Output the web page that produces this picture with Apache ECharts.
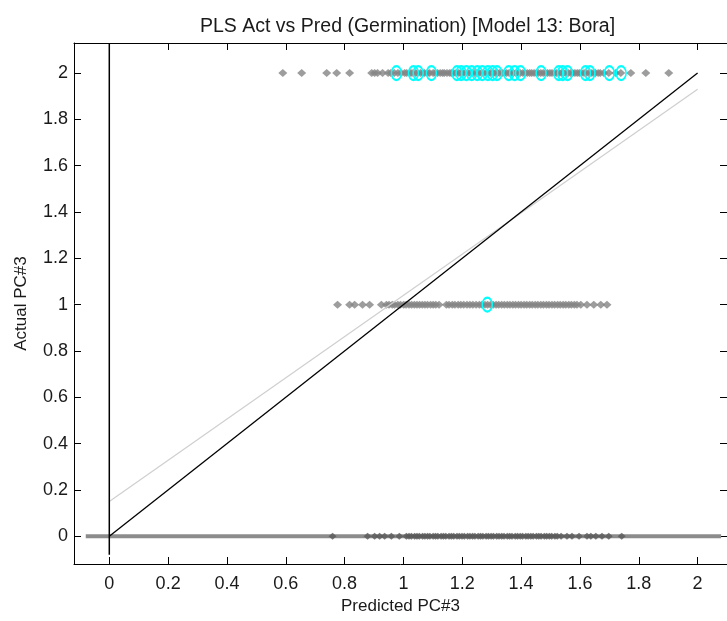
<!DOCTYPE html>
<html>
<head>
<meta charset="utf-8">
<script src="https://cdn.jsdelivr.net/npm/echarts@6/dist/echarts.min.js"></script>
<style>
  html, body { margin: 0; padding: 0; background: #fff; }
  #chart { width: 727px; height: 621px; }
</style>
</head>
<body>
<div id="chart"></div>
<script>
// Predicted values for samples whose actual class is 2, 1 and 0
const predActual2 = [0.590, 0.654, 0.739, 0.773, 0.817, 0.892, 0.902, 0.912, 0.929, 0.948, 0.957, 0.969, 0.981, 0.992, 1.004, 1.011, 1.023, 1.029, 1.041, 1.047, 1.058, 1.066, 1.072, 1.083, 1.089, 1.101, 1.108, 1.116, 1.125, 1.133, 1.139, 1.148, 1.157, 1.163, 1.171, 1.179, 1.188, 1.194, 1.203, 1.210, 1.219, 1.227, 1.233, 1.242, 1.250, 1.257, 1.266, 1.272, 1.281, 1.289, 1.296, 1.305, 1.312, 1.320, 1.327, 1.336, 1.343, 1.351, 1.359, 1.366, 1.374, 1.383, 1.390, 1.397, 1.406, 1.413, 1.421, 1.429, 1.436, 1.444, 1.452, 1.459, 1.467, 1.475, 1.483, 1.490, 1.498, 1.505, 1.514, 1.521, 1.529, 1.537, 1.544, 1.552, 1.560, 1.568, 1.575, 1.583, 1.591, 1.598, 1.606, 1.614, 1.621, 1.630, 1.638, 1.645, 1.653, 1.662, 1.669, 1.681, 1.698, 1.722, 1.739, 1.773, 1.824, 1.902];
const predActual1 = [0.776, 0.817, 0.834, 0.861, 0.885, 0.925, 0.942, 0.951, 0.962, 0.970, 0.981, 0.990, 1.001, 1.009, 1.019, 1.028, 1.037, 1.046, 1.055, 1.064, 1.073, 1.082, 1.092, 1.101, 1.110, 1.121, 1.146, 1.155, 1.166, 1.175, 1.186, 1.195, 1.205, 1.216, 1.226, 1.236, 1.247, 1.258, 1.267, 1.277, 1.286, 1.296, 1.305, 1.315, 1.324, 1.334, 1.343, 1.353, 1.362, 1.372, 1.381, 1.391, 1.400, 1.410, 1.419, 1.429, 1.438, 1.448, 1.457, 1.467, 1.476, 1.486, 1.495, 1.505, 1.514, 1.524, 1.533, 1.543, 1.552, 1.562, 1.571, 1.581, 1.590, 1.603, 1.624, 1.647, 1.671, 1.692];
const predActual0 = [0.759, 0.878, 0.902, 0.919, 0.936, 0.959, 0.986, 1.010, 1.019, 1.027, 1.038, 1.046, 1.054, 1.065, 1.073, 1.082, 1.090, 1.101, 1.109, 1.117, 1.128, 1.136, 1.144, 1.155, 1.163, 1.171, 1.182, 1.190, 1.199, 1.207, 1.218, 1.226, 1.235, 1.243, 1.254, 1.262, 1.270, 1.281, 1.289, 1.298, 1.306, 1.317, 1.325, 1.334, 1.342, 1.353, 1.361, 1.369, 1.380, 1.388, 1.397, 1.405, 1.416, 1.424, 1.433, 1.441, 1.452, 1.460, 1.468, 1.479, 1.487, 1.496, 1.504, 1.515, 1.523, 1.536, 1.556, 1.573, 1.597, 1.624, 1.637, 1.654, 1.675, 1.698, 1.742];

// Highlighted samples (actual class 2 and 1)
const markedActual2 = [0.976, 1.034, 1.050, 1.095, 1.182, 1.196, 1.214, 1.232, 1.251, 1.268, 1.287, 1.303, 1.318, 1.358, 1.378, 1.398, 1.468, 1.528, 1.541, 1.558, 1.619, 1.634, 1.700, 1.740];
const markedActual1 = [1.285];

// Reference lines
const idealLine = [[0, 0], [2, 2]];
const fitLine = [[0, 0.15], [2, 1.93]];
const zeroVLine = [[0, -0.08], [0, 2.13]];
const zeroHLine = [[-0.08, 0], [2.08, 0]];

const tickValues = [0, 0.2, 0.4, 0.6, 0.8, 1, 1.2, 1.4, 1.6, 1.8, 2];

const FONT = 'Liberation Sans, Arial, Helvetica, sans-serif';
const toPts = (xs, y) => xs.map(x => [x, y]);

const axisCommon = {
  type: 'value',
  splitLine: { show: false },
  axisLine: { show: true, onZero: false, lineStyle: { color: '#000', width: 1 } },
  axisTick: { show: true, inside: true, length: 7, customValues: tickValues, lineStyle: { color: '#000' } },
};

const chart = echarts.init(document.getElementById('chart'), null, { renderer: 'canvas' });
chart.setOption({
  animation: false,
  backgroundColor: '#fff',
  title: {
    text: 'PLS Act vs Pred (Germination) [Model 13: Bora]',
    left: 195, top: 12,
    textStyle: { fontFamily: FONT, fontSize: 19.5, fontWeight: 'normal', color: '#1a1a1a' }
  },
  grid: { left: 74, top: 43, width: 655, height: 521 },
  xAxis: [
    Object.assign({}, axisCommon, {
      position: 'bottom', min: -0.12, max: 2.1,
      name: 'Predicted PC#3', nameLocation: 'middle', nameGap: 34,
      nameTextStyle: { fontFamily: FONT, fontSize: 17, color: '#1a1a1a', verticalAlign: 'top' },
      axisLabel: { customValues: tickValues, margin: 11, fontFamily: FONT, fontSize: 18, color: '#1a1a1a' }
    }),
    Object.assign({}, axisCommon, {
      position: 'top', min: -0.12, max: 2.1,
      axisLabel: { show: false }
    })
  ],
  yAxis: [
    Object.assign({}, axisCommon, {
      position: 'left', min: -0.12, max: 2.13,
      name: 'Actual PC#3', nameLocation: 'middle', nameGap: 44, nameRotate: 90,
      nameTextStyle: { fontFamily: FONT, fontSize: 17, color: '#1a1a1a' },
      axisLabel: { customValues: tickValues, margin: 6, fontFamily: FONT, fontSize: 18, color: '#1a1a1a' }
    }),
    Object.assign({}, axisCommon, {
      position: 'right', min: -0.12, max: 2.13,
      axisLabel: { show: false }
    })
  ],
  series: [
    { type: 'line', data: zeroHLine, symbol: 'none', silent: true, z: 1,
      lineStyle: { color: '#8c8c8c', width: 4 } },
    { type: 'scatter', data: toPts(predActual2, 2), symbol: 'diamond', symbolSize: [9, 8], z: 2,
      itemStyle: { color: '#858585' } },
    { type: 'scatter', data: toPts(predActual1, 1), symbol: 'diamond', symbolSize: [9, 8], z: 2,
      itemStyle: { color: '#858585' } },
    { type: 'scatter', data: toPts(predActual0, 0), symbol: 'diamond', symbolSize: [8, 7], z: 2,
      itemStyle: { color: '#5a5a5a' } },
    { type: 'line', data: fitLine, symbol: 'none', silent: true, z: 3,
      lineStyle: { color: '#cfcfcf', width: 1.2 } },
    { type: 'line', data: idealLine, symbol: 'none', silent: true, z: 4,
      lineStyle: { color: '#000', width: 1.3 } },
    { type: 'line', data: zeroVLine, symbol: 'none', silent: true, z: 4,
      lineStyle: { color: '#000', width: 1.5 } },
    { type: 'scatter', data: toPts(markedActual2, 2).concat(toPts(markedActual1, 1)),
      symbol: 'circle', symbolSize: [10, 14], z: 5,
      itemStyle: { color: 'rgba(0,0,0,0)', borderColor: '#00ffff', borderWidth: 1.8, opacity: 1 } }
  ]
});
</script>
</body>
</html>
